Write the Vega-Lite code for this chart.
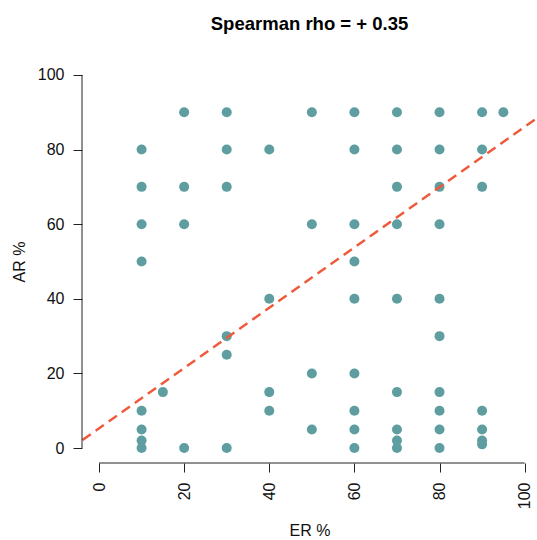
{
  "$schema": "https://vega.github.io/schema/vega-lite/v6.json",
  "width": 455,
  "height": 403,
  "autosize": {"type": "none"},
  "padding": {"left": 82, "top": 60, "right": 0, "bottom": 77},
  "background": "white",
  "title": {"text": "Spearman rho = + 0.35", "fontSize": 18.5, "font": "Liberation Sans", "fontWeight": "bold", "offset": 27, "color": "#000"},
  "config": {
    "view": {"stroke": null},
    "axis": {
      "domain": false,
      "grid": false,
      "ticks": true,
      "tickSize": 9,
      "tickColor": "#222",
      "tickWidth": 1,
      "labelFont": "Liberation Sans",
      "labelFontSize": 16,
      "labelColor": "#111",
      "titleFont": "Liberation Sans",
      "titleFontSize": 16,
      "titleFontWeight": "normal",
      "titleColor": "#111"
    }
  },
  "datasets": {
    "points": [
      {"ER": 10, "AR": 80}, {"ER": 10, "AR": 70}, {"ER": 10, "AR": 60}, {"ER": 10, "AR": 50}, {"ER": 10, "AR": 10}, {"ER": 10, "AR": 5}, {"ER": 10, "AR": 2}, {"ER": 10, "AR": 0},
      {"ER": 15, "AR": 15},
      {"ER": 20, "AR": 90}, {"ER": 20, "AR": 70}, {"ER": 20, "AR": 60}, {"ER": 20, "AR": 0},
      {"ER": 30, "AR": 90}, {"ER": 30, "AR": 80}, {"ER": 30, "AR": 70}, {"ER": 30, "AR": 30}, {"ER": 30, "AR": 25}, {"ER": 30, "AR": 0},
      {"ER": 40, "AR": 80}, {"ER": 40, "AR": 40}, {"ER": 40, "AR": 15}, {"ER": 40, "AR": 10},
      {"ER": 50, "AR": 90}, {"ER": 50, "AR": 60}, {"ER": 50, "AR": 20}, {"ER": 50, "AR": 5},
      {"ER": 60, "AR": 90}, {"ER": 60, "AR": 80}, {"ER": 60, "AR": 60}, {"ER": 60, "AR": 50}, {"ER": 60, "AR": 40}, {"ER": 60, "AR": 20}, {"ER": 60, "AR": 10}, {"ER": 60, "AR": 5}, {"ER": 60, "AR": 0},
      {"ER": 70, "AR": 90}, {"ER": 70, "AR": 80}, {"ER": 70, "AR": 70}, {"ER": 70, "AR": 60}, {"ER": 70, "AR": 40}, {"ER": 70, "AR": 15}, {"ER": 70, "AR": 5}, {"ER": 70, "AR": 2}, {"ER": 70, "AR": 0},
      {"ER": 80, "AR": 90}, {"ER": 80, "AR": 80}, {"ER": 80, "AR": 70}, {"ER": 80, "AR": 60}, {"ER": 80, "AR": 40}, {"ER": 80, "AR": 30}, {"ER": 80, "AR": 15}, {"ER": 80, "AR": 10}, {"ER": 80, "AR": 5}, {"ER": 80, "AR": 0},
      {"ER": 90, "AR": 90}, {"ER": 90, "AR": 80}, {"ER": 90, "AR": 70}, {"ER": 90, "AR": 10}, {"ER": 90, "AR": 5}, {"ER": 90, "AR": 2}, {"ER": 90, "AR": 1},
      {"ER": 95, "AR": 90}
    ],
    "fit": [
      {"ER": -10, "AR": -2.78},
      {"ER": 110, "AR": 94.18}
    ]
  },
  "layer": [
    {
      "data": {"name": "points"},
      "mark": {"type": "circle", "size": 100, "opacity": 1, "color": "#5F9EA0"},
      "encoding": {
        "x": {
          "field": "ER", "type": "quantitative",
          "scale": {"domain": [-4, 102.9], "nice": false, "zero": false},
          "axis": {"values": [0, 20, 40, 60, 80, 100], "labelAngle": -90, "labelPadding": 10, "title": "ER %", "titlePadding": 14}
        },
        "y": {
          "field": "AR", "type": "quantitative",
          "scale": {"domain": [-4, 104], "nice": false, "zero": false},
          "axis": {"values": [0, 20, 40, 60, 80, 100], "labelPadding": 9, "title": "AR %", "titlePadding": 10}
        }
      }
    },
    {
      "data": {"name": "fit"},
      "mark": {"type": "line", "clip": true, "color": "#EF5A3C", "strokeWidth": 2.5, "strokeDash": [10, 6]},
      "encoding": {
        "x": {"field": "ER", "type": "quantitative"},
        "y": {"field": "AR", "type": "quantitative"}
      }
    },
    {
      "data": {"values": [{}]},
      "mark": {"type": "rule", "color": "#222", "strokeWidth": 1},
      "encoding": {"x": {"datum": 0}, "x2": {"datum": 100}, "y": {"datum": -4}}
    },
    {
      "data": {"values": [{}]},
      "mark": {"type": "rule", "color": "#222", "strokeWidth": 1},
      "encoding": {"y": {"datum": 0}, "y2": {"datum": 100}, "x": {"datum": -4}}
    }
  ]
}
